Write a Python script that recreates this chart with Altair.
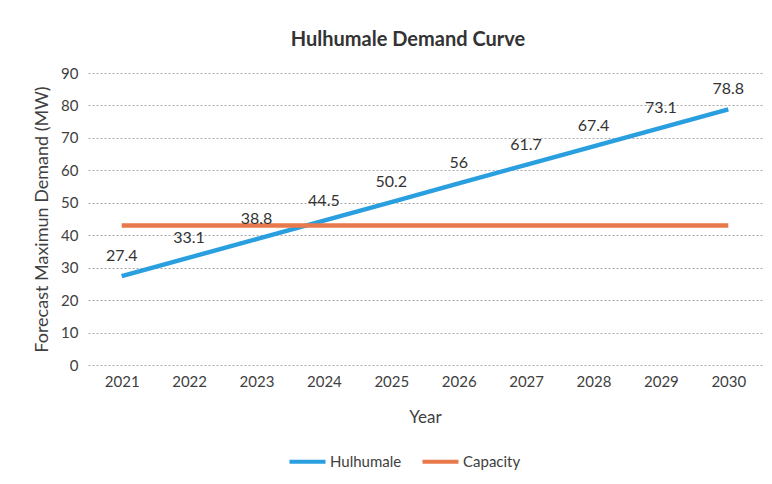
import altair as alt
import pandas as pd

years = ["2021", "2022", "2023", "2024", "2025", "2026", "2027", "2028", "2029", "2030"]
hulhumale = [27.4, 33.1, 38.8, 44.5, 50.2, 56, 61.7, 67.4, 73.1, 78.8]
capacity = [43, 43, 43, 43, 43, 43, 43, 43, 43, 43]
series_names = ["Hulhumale", "Capacity"]
series_colors = ["#2a9fe0", "#e8794c"]

df = pd.concat([
    pd.DataFrame({"year": years, "value": hulhumale, "series": "Hulhumale"}),
    pd.DataFrame({"year": years, "value": capacity, "series": "Capacity"}),
])
df_lab = pd.DataFrame({"year": years, "value": hulhumale})

FONT = "Lato"

x = alt.X("year:O", title="Year",
          axis=alt.Axis(labelAngle=0, ticks=False, tickSize=0, domain=False,
                        labelPadding=9, titlePadding=20, labelFontSize=15,
                        titleFontSize=17, titleFontWeight="normal",
                        labelColor="#404040", titleColor="#404040"))
y = alt.Y("value:Q", title="Forecast  Maximun Demand (MW)",
          scale=alt.Scale(domain=[0, 90]),
          axis=alt.Axis(values=[0, 10, 20, 30, 40, 50, 60, 70, 80, 90], ticks=False, tickSize=0,
                        domain=False, labelPadding=10, titlePadding=9, labelOverlap=False,
                        labelFontSize=15, titleFontSize=18, titleFontWeight="normal",
                        labelColor="#404040", titleColor="#404040",
                        gridColor="#a8a8a8", gridDash=[2, 2], gridWidth=1))

lines = alt.Chart(df).mark_line(strokeWidth=4.5).encode(
    x=x, y=y,
    color=alt.Color("series:N", sort=series_names,
                    scale=alt.Scale(domain=series_names, range=series_colors),
                    legend=alt.Legend(title=None, orient="none", legendX=199, legendY=368,
                                      direction="horizontal", symbolType="stroke",
                                      symbolStrokeWidth=4, symbolSize=1300,
                                      labelFontSize=15, labelColor="#404040",
                                      labelOffset=2, columnPadding=12)),
    detail="series:N",
)

labels = alt.Chart(df_lab).mark_text(dy=-20, fontSize=16, color="#333333", font=FONT).encode(
    x=x, y=y, text="value:Q"
)

chart = alt.layer(lines, labels).properties(
    width=674, height=292,
    title=alt.TitleParams("Hulhumale Demand Curve", fontSize=20, fontWeight="bold",
                          color="#333333", anchor="middle", frame="group", dx=-17, offset=16),
    autosize=alt.AutoSizeParams(type="none"),
    padding={"left": 80, "top": 65, "right": 2, "bottom": 111},
).configure(font=FONT).configure_view(stroke=None)

chart.save("out.html", embed_options={"renderer": "svg", "actions": False})
